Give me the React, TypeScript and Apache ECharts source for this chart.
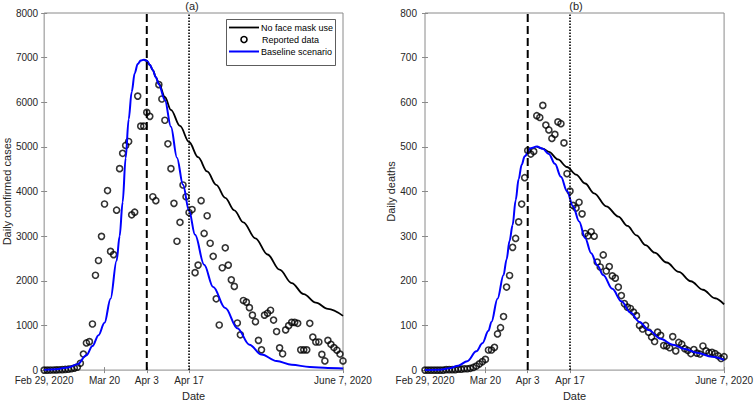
import React, { useEffect, useRef } from "react";
import * as echarts from "echarts";

// Day index 0 = Feb 29, 2020 ... 99 = June 7, 2020
const xTickDays = [0, 20, 34, 48, 99];
const xTickLabels = ["Feb 29, 2020", "Mar 20", "Apr 3", "Apr 17", "June 7, 2020"];
const dashedDay = 34; // Apr 3
const dottedDay = 48; // Apr 17

const casesReported = [
  0, 0, 1, 3, 5, 8, 10, 15, 20, 30,
  45, 66, 154, 359, 608, 637, 1033, 2125, 2455, 2996,
  3721, 4022, 2659, 2587, 3582, 4513, 4857, 5033, 5121, 3479,
  3538, 6138, 5465, 5465, 5773, 5685, 3883, 3795, 6395, 6073,
  5597, 5070, 4513, 3736, 2886, 3311, 4147, 3883, 3531, 3597,
  2183, 2352, 3795, 3062, 3458, 2842, 2549, 1597, 1011, 2293,
  2740, 2352, 2022, 1875, 1055, 791, 1560, 1523, 1399, 1231,
  1084, 666, 454, 1231, 1275, 1341, 1121, 864, 498, 366,
  901, 996, 1070, 1070, 1048, 454, 454, 454, 1048, 740,
  630, 630, 352, 205, 666, 578, 505, 446, 359, 205,
];

const deathsReported = [
  0, 0, 0, 0, 0, 0, 0, 1, 1, 1,
  1, 2, 2, 3, 3, 4, 6, 9, 14, 19,
  24, 45, 45, 51, 81, 95, 120, 186, 212, 275,
  295, 332, 372, 431, 492, 484, 490, 570, 566, 593,
  549, 538, 519, 528, 556, 552, 509, 440, 401, 369,
  363, 376, 350, 306, 301, 310, 300, 242, 231, 258,
  222, 232, 211, 206, 186, 167, 149, 141, 138, 130,
  122, 100, 92, 100, 85, 74, 64, 85, 78, 55,
  54, 50, 75, 43, 62, 58, 48, 44, 37, 46,
  38, 36, 54, 43, 39, 40, 37, 32, 26, 30,
];

const casesBaseline: [number, number][] = [
  [0, 5], [4, 20], [8, 60], [11, 130], [14, 330], [16, 540], [18, 780], [20, 1060],
  [22, 1600], [24, 2450], [25, 3000], [26, 3760], [27, 4750], [28, 5620], [29, 6230],
  [30, 6650], [31, 6860], [32, 6935], [33, 6955], [34, 6930], [35, 6840], [36, 6720],
  [37, 6560], [38, 6400], [40, 6050], [42, 5450], [44, 4760], [46, 4150], [48, 3570],
  [50, 3030], [53, 2360], [56, 1860], [60, 1390], [64, 940], [68, 570], [72, 350],
  [77, 205], [82, 120], [88, 70], [94, 48], [99, 37],
];

const casesNoMask: [number, number][] = [
  [33, 6955], [34, 6930], [35, 6840], [36, 6720], [37, 6565], [38, 6420], [40, 6120],
  [42, 5830], [45, 5470], [48, 5110], [51, 4770], [54, 4450], [57, 4150], [60, 3860],
  [63, 3580], [66, 3310], [70, 2950], [74, 2590], [78, 2250], [82, 1950], [86, 1700],
  [90, 1510], [94, 1370], [99, 1215],
];

const deathsBaseline: [number, number][] = [
  [0, 0], [5, 1], [8, 4], [11, 10], [14, 20], [17, 42], [19, 60], [21, 88], [22, 108],
  [24, 160], [26, 213], [27, 248], [28, 290], [29, 325], [30, 380], [31, 428], [32, 460],
  [33, 479], [35, 497], [37, 501], [39, 496], [41, 484], [43, 462], [45, 433], [47, 401],
  [49, 367], [51, 333], [53, 296], [55, 262], [57, 235], [59, 213], [62, 182], [65, 154],
  [68, 129], [71, 108], [74, 90], [78, 70], [82, 57], [86, 47], [90, 39], [95, 30], [99, 23],
];

const deathsNoMask: [number, number][] = [
  [37, 501], [39, 496], [41, 489], [44, 472], [47, 455], [50, 438], [53, 418], [56, 396],
  [60, 367], [64, 344], [67, 323], [70, 302], [73, 280], [76, 263], [80, 241], [84, 220],
  [88, 199], [92, 180], [96, 161], [99, 147],
];

const legendNames = ["No face mask use", "Reported data", "Baseline scenario"];

const FONT = '"Liberation Sans", Arial, Helvetica, sans-serif';
const TEXT = "#262626";
const AXIS = "#8a8a8a";

export default function App() {
  const ref = useRef<HTMLDivElement>(null);

  useEffect(() => {
    if (!ref.current) return;
    const chart = echarts.init(ref.current, undefined, { renderer: "svg" });

    const xAxisPair = (gridIndex: number) => [
      {
        type: "value",
        gridIndex,
        min: 0,
        max: 99,
        position: "bottom",
        axisLine: { show: false },
        axisTick: {
          show: true,
          inside: true,
          length: 3,
          customValues: xTickDays,
          lineStyle: { color: AXIS },
        },
        axisLabel: {
          customValues: xTickDays,
          showMinLabel: true,
          showMaxLabel: true,
          formatter: (v: number) => {
            const i = xTickDays.indexOf(Math.round(v));
            return i >= 0 ? xTickLabels[i] : "";
          },
          fontSize: 10,
          color: TEXT,
          fontFamily: FONT,
          margin: 5,
        },
        splitLine: { show: false },
        name: "Date",
        nameLocation: "middle",
        nameGap: 18,
        nameTextStyle: { fontSize: 11, color: TEXT, fontFamily: FONT },
      },
      {
        type: "value",
        gridIndex,
        min: 0,
        max: 99,
        position: "top",
        axisLine: { show: false },
        axisTick: {
          show: true,
          inside: true,
          length: 3,
          customValues: xTickDays,
          lineStyle: { color: AXIS },
        },
        axisLabel: { show: false },
        splitLine: { show: false },
      },
    ];

    const yAxisPair = (gridIndex: number, max: number, interval: number, name: string, nameGap: number, labelMargin: number) => [
      {
        type: "value",
        gridIndex,
        min: 0,
        max,
        interval,
        position: "left",
        axisLine: { show: false },
        axisTick: { show: true, inside: true, length: 3, lineStyle: { color: AXIS } },
        axisLabel: {
          fontSize: 10,
          color: TEXT,
          fontFamily: FONT,
          margin: labelMargin,
          formatter: (v: number) => String(v),
        },
        splitLine: { show: false },
        name,
        nameLocation: "middle",
        nameGap,
        nameTextStyle: { fontSize: 11, color: TEXT, fontFamily: FONT },
      },
      {
        type: "value",
        gridIndex,
        min: 0,
        max,
        interval,
        position: "right",
        axisLine: { show: false },
        axisTick: { show: true, inside: true, length: 3, lineStyle: { color: AXIS } },
        axisLabel: { show: false },
        splitLine: { show: false },
      },
    ];

    const panelSeries = (
      xi: number,
      yi: number,
      ymax: number,
      reported: number[],
      baseline: [number, number][],
      noMask: [number, number][]
    ) => [
      {
        type: "line",
        name: legendNames[0],
        xAxisIndex: xi,
        yAxisIndex: yi,
        data: noMask,
        smooth: 0.35,
        smoothMonotone: "x",
        showSymbol: false,
        symbol: "none",
        lineStyle: { color: "#000", width: 1.8 },
        silent: true,
      },
      {
        type: "scatter",
        name: legendNames[1],
        xAxisIndex: xi,
        yAxisIndex: yi,
        data: reported.map((v, i) => [i, v]),
        symbol: "circle",
        symbolSize: 6,
        itemStyle: { color: "rgba(0,0,0,0)", borderColor: "#000", borderWidth: 1.6 },
        silent: true,
      },
      {
        type: "line",
        name: legendNames[2],
        xAxisIndex: xi,
        yAxisIndex: yi,
        data: baseline,
        smooth: 0.35,
        smoothMonotone: "x",
        showSymbol: false,
        symbol: "none",
        lineStyle: { color: "#0000ff", width: 2 },
        silent: true,
      },
      {
        type: "line",
        xAxisIndex: xi,
        yAxisIndex: yi,
        data: [[dashedDay, 0], [dashedDay, ymax]],
        showSymbol: false,
        symbol: "none",
        lineStyle: { color: "#000", width: 2, type: [8, 4] },
        silent: true,
      },
      {
        type: "line",
        xAxisIndex: xi,
        yAxisIndex: yi,
        data: [[dottedDay, 0], [dottedDay, ymax]],
        showSymbol: false,
        symbol: "none",
        lineStyle: { color: "#000", width: 1.6, type: [1.5, 1.5] },
        silent: true,
      },
    ];

    const lgX = 226, lgY = 19, lgW = 109, lgH = 46;

    chart.setOption({
      animation: false,
      backgroundColor: "#fff",
      grid: [
        { left: 41, top: 13, width: 302, height: 364, show: true, borderColor: AXIS, borderWidth: 1, backgroundColor: "transparent" },
        { left: 425, top: 13, width: 302, height: 364, show: true, borderColor: AXIS, borderWidth: 1, backgroundColor: "transparent" },
      ],
      xAxis: [...xAxisPair(0), ...xAxisPair(1)],
      yAxis: [
        ...yAxisPair(0, 8000, 1000, "Daily confirmed cases", 30, 6),
        ...yAxisPair(1, 800, 100, "Daily deaths", 24, 8),
      ],
      series: [
        ...panelSeries(0, 0, 8000, casesReported, casesBaseline, casesNoMask),
        ...panelSeries(2, 2, 800, deathsReported, deathsBaseline, deathsNoMask),
      ],
      graphic: [
        { type: "text", x: 192, y: 6, z: 100, style: { text: "(a)", fontSize: 11, fill: TEXT, fontFamily: FONT, align: "center", verticalAlign: "middle" } },
        { type: "text", x: 576, y: 6, z: 100, style: { text: "(b)", fontSize: 11, fill: TEXT, fontFamily: FONT, align: "center", verticalAlign: "middle" } },
        { type: "rect", z: 100, shape: { x: lgX + 0.5, y: lgY + 0.5, width: lgW, height: lgH }, style: { fill: "#fff", stroke: "#333", lineWidth: 0.8 } },
        { type: "line", z: 101, shape: { x1: 229, y1: 27.5, x2: 259, y2: 27.5 }, style: { stroke: "#000", lineWidth: 1.8 } },
        { type: "circle", z: 101, shape: { cx: 244, cy: 39.5, r: 3 }, style: { fill: "none", stroke: "#000", lineWidth: 1.6 } },
        { type: "line", z: 101, shape: { x1: 229, y1: 51.5, x2: 259, y2: 51.5 }, style: { stroke: "#0000ff", lineWidth: 2 } },
        { type: "text", z: 101, x: 261, y: 27.5, style: { text: legendNames[0], fontSize: 9, fill: "#000", fontFamily: FONT, verticalAlign: "middle" } },
        { type: "text", z: 101, x: 262, y: 39.5, style: { text: legendNames[1], fontSize: 9, fill: "#000", fontFamily: FONT, verticalAlign: "middle" } },
        { type: "text", z: 101, x: 261, y: 51.5, style: { text: legendNames[2], fontSize: 9, fill: "#000", fontFamily: FONT, verticalAlign: "middle" } },
      ],
    });

    return () => chart.dispose();
  }, []);

  return (
    <div
      ref={ref}
      style={{ position: "fixed", left: 0, top: 0, width: 756, height: 406 }}
    />
  );
}
